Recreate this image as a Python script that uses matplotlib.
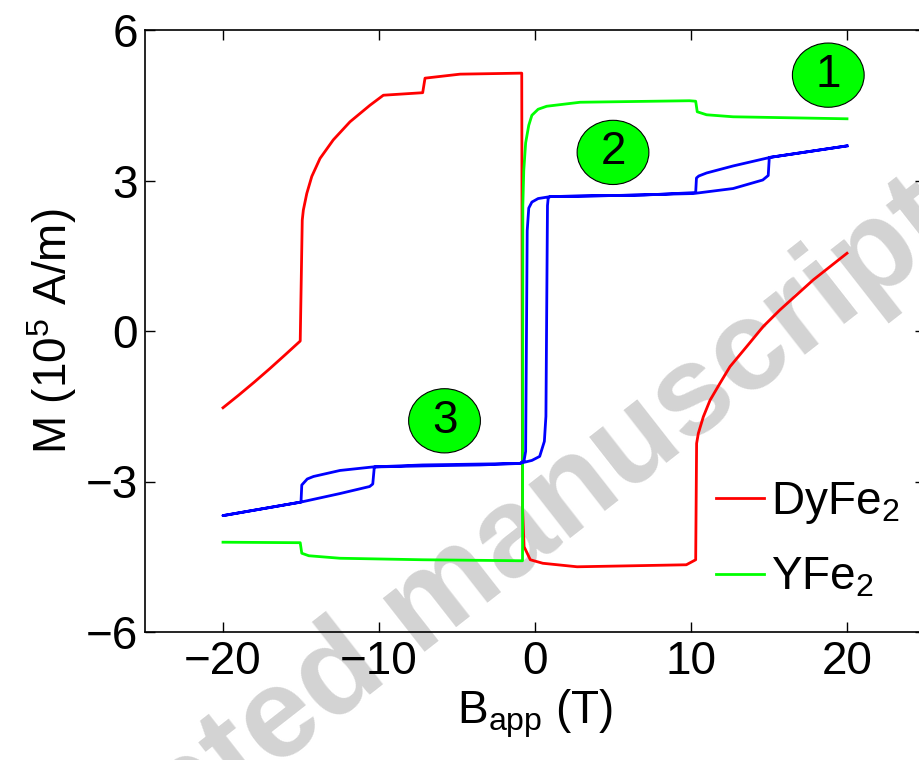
import matplotlib
matplotlib.use("Agg")
import matplotlib.pyplot as plt
from matplotlib.patches import Ellipse

plt.rcParams["font.family"] = ["Liberation Sans", "DejaVu Sans"]
plt.rcParams["mathtext.fontset"] = "custom"
plt.rcParams["mathtext.rm"] = "Liberation Sans"
plt.rcParams["mathtext.it"] = "Liberation Sans:italic"
plt.rcParams["mathtext.default"] = "regular"

# DyFe2
dy_B = [-20, -19, -18, -17, -16, -15.05, -14.92, -14.85, -14.63, -14.31, -13.78, -12.93,
        -11.86, -10.58, -9.72, -7.2, -7.05, -4.8, -0.85, -0.8, -0.7, -0.3, 0.5, 2.7,
        9.7, 10.3, 10.36, 10.47, 10.79, 11.22, 11.86, 12.5, 13.57, 14.63, 15.7, 16.77,
        17.84, 18.9, 20.0]
dy_M = [-1.53, -1.28, -1.02, -0.75, -0.47, -0.2, 2.21, 2.41, 2.74, 3.08, 3.44, 3.81,
        4.17, 4.50, 4.70, 4.75, 5.04, 5.12, 5.14, -3.5, -4.3, -4.56, -4.63, -4.70,
        -4.66, -4.56, -2.24, -2.04, -1.71, -1.38, -1.04, -0.71, -0.31, 0.09, 0.42, 0.72,
        1.02, 1.28, 1.55]

# YFe2
y_B = [-20, -15.05, -14.95, -14.5, -12.5, -7.2, -0.8, -0.78, -0.72, -0.6, -0.4, -0.2,
       0.2, 0.75, 2.9, 9.9, 10.3, 10.4, 11.0, 12.7, 20]
y_M = [-4.21, -4.22, -4.43, -4.48, -4.53, -4.56, -4.58, 2.5, 3.2, 3.75, 4.1, 4.3,
       4.42, 4.48, 4.56, 4.59, 4.58, 4.37, 4.31, 4.27, 4.23]

# third curve (blue loop), descending then ascending field
loop_B = [20, 15.06, 12.7, 11.0, 10.5, 10.35, 10.3, 7, 3, 1, 0.2, -0.2, -0.4, -0.5,
          -0.6, -0.7, -0.95, -3.5, -7.2, -10.3, -10.4, -10.6, -12.5, -15, -20,
          -15, -14.95, -14.6, -14.2, -12.5, -10.4, -7.2, -1, -0.2, 0.3, 0.6, 0.7,
          0.8, 0.85, 1, 5, 10.15, 12.7, 14.6, 14.95, 15.02, 20]
loop_M = [3.69, 3.46, 3.29, 3.15, 3.09, 3.05, 2.76, 2.71, 2.69, 2.68, 2.64, 2.57, 2.45, 2.0,
          -2.4, -2.58, -2.64, -2.67, -2.69, -2.71, -3.05, -3.10, -3.24, -3.41, -3.68,
          -3.41, -3.07, -2.95, -2.9, -2.78, -2.71, -2.67, -2.64, -2.58, -2.5, -2.2, -1.7,
          2.5, 2.66, 2.68, 2.70, 2.74, 2.84, 3.01, 3.1, 3.46, 3.69]

labels = ["1", "2", "3"]
label_B = [18.8, 5.0, -5.8]
label_M = [5.10, 3.56, -1.79]

fig = plt.figure(figsize=(9.2, 7.6), dpi=100)
ax = fig.add_axes([145 / 920, 128 / 760, 780 / 920, 602 / 760])

# watermark
ax.text(961 / 920, 527 / 760, "Accepted manuscript", transform=fig.transFigure,
        fontsize=92, fontweight="bold", color="#d3d3d3", rotation=38,
        rotation_mode="anchor", ha="right", va="baseline", clip_on=False, zorder=1)

ax.plot(dy_B, dy_M, color="#ff0000", lw=2, label="DyFe$_2$", zorder=3)
ax.plot(y_B, y_M, color="#00ff00", lw=2, label="YFe$_2$", zorder=3)
ax.plot(loop_B, loop_M, color="#0000ff", lw=2, zorder=3)

for t, bx, my in zip(labels, label_B, label_M):
    ax.add_patch(Ellipse((bx, my), 4.6, 1.28, facecolor="#00ff00", edgecolor="black",
                         lw=0.8, zorder=4))
    ax.text(bx, my, t, fontsize=33, ha="center", va="center", zorder=5)

ax.set_xlim(-25, 25)
ax.set_ylim(-6, 6)
ax.set_xticks([-20, -10, 0, 10, 20])
ax.set_yticks([-6, -3, 0, 3, 6])
ax.tick_params(direction="in", top=True, right=True, length=7, width=1,
               labelsize=33, pad=6)
ax.tick_params(axis="y", pad=5)
for s in ax.spines.values():
    s.set_linewidth(1.2)

ax.set_xlabel("B$_{app}$ (T)", fontsize=33, labelpad=2)
ax.set_ylabel("M (10$^5$ A/m)", fontsize=33, labelpad=5)

ax.legend(loc="center left", bbox_to_anchor=(716 / 920, 220 / 760),
          bbox_transform=fig.transFigure, frameon=False,
          fontsize=33, handlelength=1.05, handletextpad=0.15, labelspacing=0.65,
          borderpad=0, borderaxespad=0)

plt.savefig("out.png", dpi=100)
